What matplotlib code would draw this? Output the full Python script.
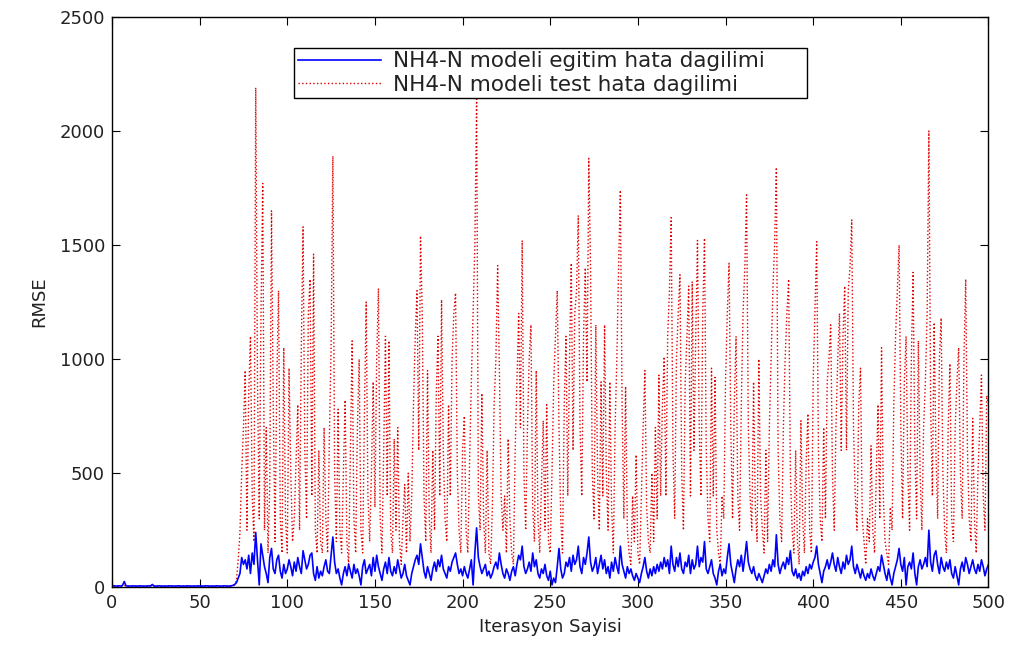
import matplotlib
matplotlib.use("Agg")
import matplotlib.pyplot as plt
import numpy as np

plt.rcParams['font.family'] = ['DejaVu Sans']

iterations = np.arange(1, 501)

# egitim (training) RMSE
train_start = [6, 5, 5, 6, 5, 8, 25, 6, 5, 5, 5, 6, 5, 5, 5, 6, 5, 5, 5, 5,
               6, 5, 12, 5, 5, 5, 6, 5, 5, 5, 5, 5, 6, 5, 5, 5, 5, 6, 5, 5,
               5, 5, 6, 5, 5, 5, 5, 5, 6, 5, 5, 5, 5, 6, 5, 5, 5, 5, 5, 6,
               5, 5, 5, 6, 5, 5, 5, 6, 8, 12]
train_rest = [20, 40, 60, 130, 100, 120, 80, 140, 60, 150,
              100, 240, 120, 10, 190, 140, 90, 60, 20, 130,
              170, 80, 60, 120, 140, 70, 40, 100, 60, 80,
              120, 90, 50, 110, 70, 130, 90, 60, 160, 120,
              80, 100, 140, 150, 60, 30, 90, 40, 70, 50,
              90, 120, 70, 60, 140, 220, 110, 60, 80, 40,
              10, 60, 90, 50, 100, 70, 40, 100, 60, 80,
              50, 10, 90, 120, 60, 80, 100, 50, 130, 70,
              140, 90, 60, 30, 80, 110, 60, 130, 70, 50,
              90, 60, 120, 80, 40, 60, 100, 50, 30, 10,
              60, 90, 120, 140, 100, 190, 130, 70, 40, 90,
              60, 30, 80, 110, 70, 120, 90, 140, 80, 60,
              40, 90, 70, 110, 130, 150, 100, 60, 80, 50,
              90, 60, 40, 80, 120, 10, 150, 260, 130, 90,
              60, 80, 100, 50, 70, 40, 60, 90, 110, 80,
              150, 100, 60, 40, 80, 60, 30, 70, 90, 50,
              100, 140, 120, 180, 90, 60, 80, 110, 70, 150,
              90, 120, 60, 40, 80, 60, 100, 50, 30, 70,
              10, 40, 20, 90, 170, 80, 40, 60, 110, 90,
              130, 70, 140, 100, 120, 180, 90, 60, 130, 100,
              150, 220, 110, 70, 90, 130, 60, 100, 140, 80,
              120, 60, 90, 40, 110, 70, 130, 90, 60, 180,
              100, 70, 40, 90, 60, 80, 50, 30, 60, 40,
              20, 60, 90, 130, 70, 40, 80, 50, 90, 60,
              100, 70, 110, 80, 130, 90, 120, 60, 180, 100,
              70, 130, 90, 150, 80, 60, 110, 90, 140, 60,
              120, 80, 100, 180, 90, 130, 110, 200, 80, 60,
              90, 120, 60, 40, 10, 70, 100, 50, 80, 60,
              130, 190, 100, 60, 20, 80, 120, 90, 140, 70,
              130, 200, 110, 80, 60, 90, 50, 30, 60, 40,
              20, 50, 80, 60, 100, 70, 120, 90, 230, 100,
              60, 90, 110, 80, 130, 100, 160, 70, 50, 80,
              40, 60, 30, 70, 50, 90, 60, 100, 80, 110,
              130, 180, 100, 60, 20, 70, 90, 120, 80, 110,
              150, 100, 70, 130, 90, 60, 110, 80, 140, 100,
              120, 180, 90, 60, 100, 70, 40, 80, 50, 30,
              60, 40, 80, 50, 30, 60, 90, 70, 140, 100,
              60, 30, 80, 40, 10, 60, 90, 120, 170, 100,
              70, 130, 10, 90, 110, 80, 150, 60, 10, 90,
              120, 80, 100, 130, 90, 250, 110, 70, 140, 160,
              100, 60, 130, 90, 70, 110, 80, 120, 60, 40,
              90, 50, 10, 80, 110, 70, 130, 100, 60, 90,
              120, 80, 60, 100, 70, 120, 90, 50, 80, 100]

# test RMSE
test_start = [5, 4, 5, 5, 4, 6, 10, 5, 4, 5, 5, 4, 5, 5, 4, 5, 5, 4, 5, 5,
              4, 5, 8, 5, 4, 5, 5, 4, 5, 5, 4, 5, 5, 4, 5, 5, 4, 5, 5, 4,
              5, 5, 4, 5, 5, 4, 5, 5, 4, 5, 5, 4, 5, 5, 4, 5, 5, 4, 5, 5,
              4, 5, 5, 4, 5, 5, 4, 5, 6, 10]
test_rest = [30, 120, 240, 500, 700, 950, 250, 850, 1100, 400,
             200, 2190, 900, 300, 1200, 1770, 250, 700, 150, 450,
             1650, 800, 200, 900, 1300, 300, 150, 1050, 300, 150,
             960, 500, 200, 300, 550, 800, 250, 1050, 1580, 600,
             300, 1200, 1350, 400, 1460, 250, 150, 600, 200, 150,
             700, 300, 150, 650, 1050, 1890, 500, 200, 780, 250,
             150, 500, 820, 200, 100, 600, 1080, 300, 150, 700,
             1000, 250, 150, 750, 1250, 400, 200, 500, 900, 350,
             1000, 1310, 300, 150, 600, 1100, 400, 1080, 250, 150,
             650, 250, 700, 200, 100, 300, 450, 150, 500, 200,
             400, 800, 1100, 1300, 600, 1540, 1200, 400, 200, 950,
             300, 150, 600, 250, 850, 1100, 400, 1260, 600, 300,
             200, 800, 400, 1000, 1200, 1290, 500, 250, 150, 600,
             750, 250, 150, 550, 900, 1200, 1500, 2140, 400, 250,
             850, 300, 150, 600, 150, 100, 350, 800, 1000, 1410,
             950, 400, 250, 400, 150, 650, 300, 150, 100, 600,
             900, 1200, 700, 1520, 500, 250, 700, 1000, 1150, 350,
             200, 950, 300, 150, 450, 730, 250, 800, 200, 150,
             500, 900, 1100, 1300, 700, 300, 150, 800, 1100, 400,
             1000, 1420, 600, 1200, 1300, 1630, 700, 400, 1100, 1400,
             900, 1880, 1400, 500, 300, 1150, 500, 250, 900, 400,
             1150, 500, 250, 900, 350, 150, 700, 1000, 1400, 1740,
             800, 300, 880, 250, 150, 100, 400, 200, 580, 150,
             100, 400, 700, 950, 350, 200, 150, 500, 200, 700,
             300, 930, 400, 800, 1010, 400, 1100, 1300, 1620, 600,
             300, 1000, 1200, 1370, 500, 250, 900, 1100, 1320, 400,
             1340, 600, 1100, 1520, 700, 400, 1200, 1530, 600, 300,
             200, 960, 400, 920, 250, 150, 100, 400, 300, 900,
             1200, 1420, 700, 300, 800, 1100, 400, 250, 800, 1200,
             1400, 1720, 700, 400, 250, 900, 350, 200, 1000, 400,
             250, 150, 600, 200, 700, 1000, 1300, 1500, 1840, 600,
             300, 200, 700, 1000, 1200, 1350, 500, 250, 150, 600,
             200, 100, 730, 300, 150, 550, 760, 250, 150, 900,
             1200, 1515, 600, 300, 200, 700, 300, 900, 1000, 1150,
             500, 250, 700, 1000, 1200, 600, 1100, 1320, 600, 1300,
             1400, 1610, 700, 400, 250, 800, 960, 300, 200, 100,
             300, 200, 620, 250, 150, 500, 800, 300, 1050, 400,
             200, 150, 100, 350, 250, 800, 1100, 1300, 1500, 700,
             300, 900, 1100, 500, 250, 1000, 1380, 600, 300, 1080,
             500, 250, 700, 900, 1200, 2000, 800, 400, 1160, 600,
             300, 1000, 1180, 500, 250, 150, 700, 980, 300, 200,
             700, 900, 1050, 500, 300, 1000, 1350, 600, 300, 200,
             740, 300, 150, 500, 700, 930, 400, 250, 840, 800]

train = np.array(train_start + train_rest)
test = np.array(test_start + test_rest)

fig = plt.figure(figsize=(10.18, 6.51), dpi=100)
ax = fig.add_axes([0.110, 0.098, 0.861, 0.876])

ax.plot(iterations, train, color='#0000ff', linewidth=1.2, zorder=3,
        label='NH4-N modeli egitim hata dagilimi')
ax.plot(iterations, test, color='#e00000', linestyle=':', linewidth=1.0, zorder=2,
        label='NH4-N modeli test hata dagilimi')

ax.set_xlim(0, 500)
ax.set_ylim(0, 2500)
ax.set_xticks(np.arange(0, 501, 50))
ax.set_yticks(np.arange(0, 2501, 500))
ax.tick_params(direction='in', top=True, right=True, length=6, width=0.8,
               labelsize=13, pad=5, labelcolor='#222222')
for s in ax.spines.values():
    s.set_linewidth(1.0)

ax.set_xlabel('Iterasyon Sayisi', fontsize=13, labelpad=4, color='#222222')
ax.set_ylabel('RMSE', fontsize=13, labelpad=8, color='#222222')

leg = ax.legend(loc='lower left', bbox_to_anchor=(0.208, 0.858, 0.585, 0.116),
                mode='expand', fontsize=15.5, handlelength=3.9, fancybox=False,
                framealpha=1, edgecolor='black', borderaxespad=0,
                borderpad=0.15, labelspacing=0.15, handletextpad=0.55)
leg.get_frame().set_linewidth(1.0)
for t in leg.get_texts():
    t.set_color('#222222')

fig.savefig('out.png', dpi=100)
